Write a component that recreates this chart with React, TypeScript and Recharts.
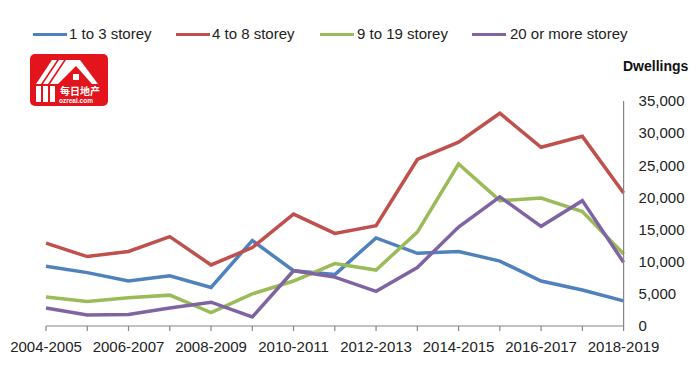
import React from 'react';
import { LineChart, Line, XAxis, YAxis } from 'recharts';

const categories = [
  '2004-2005', '2005-2006', '2006-2007', '2007-2008', '2008-2009', '2009-2010', '2010-2011', '2011-2012',
  '2012-2013', '2013-2014', '2014-2015', '2015-2016', '2016-2017', '2017-2018', '2018-2019',
];
const storey1to3 = [9300, 8300, 7000, 7800, 6000, 13300, 8600, 8000, 13700, 11300, 11600, 10100, 7000, 5600, 3900];
const storey4to8 = [12900, 10800, 11600, 13900, 9500, 12200, 17400, 14400, 15600, 25900, 28600, 33100, 27800, 29500, 20700];
const storey9to19 = [4500, 3800, 4400, 4800, 2100, 5000, 7000, 9700, 8700, 14600, 25200, 19500, 19900, 17800, 11200];
const storey20plus = [2800, 1700, 1800, 2800, 3700, 1400, 8600, 7600, 5400, 9100, 15400, 20100, 15500, 19500, 9900];
const yTicks = [0, 5000, 10000, 15000, 20000, 25000, 30000, 35000];

const seriesNames = ['1 to 3 storey', '4 to 8 storey', '9 to 19 storey', '20 or more storey'];
const colors = ['#4F81BD', '#C0504D', '#9BBB59', '#8064A2'];
const keys = ['s1', 's2', 's3', 's4'];

const data = categories.map((c, i) => ({
  cat: c,
  s1: storey1to3[i],
  s2: storey4to8[i],
  s3: storey9to19[i],
  s4: storey20plus[i],
}));

const FONT = '"Liberation Sans", Arial, sans-serif';

const XTick = (props: any) => {
  const { x, y, payload, index } = props;
  if (index % 2 !== 0) return null;
  return (
    <text x={x} y={y} dy={19} textAnchor="middle" fill="#222" fontSize={15} fontFamily={FONT}>
      {payload.value}
    </text>
  );
};

const legendPos = [
  { lx: 33, tx: 69 },
  { lx: 176, tx: 212 },
  { lx: 320, tx: 357 },
  { lx: 472, tx: 510 },
];

const Logo = () => (
  <svg width={78} height={52} style={{ position: 'absolute', left: 30, top: 54 }}>
    <rect x={0} y={0} width={78} height={52} rx={5} fill="#E3141B" />
    <polygon points="6,30 22,6 27,6 11,30" fill="#fff" />
    <polygon points="13,30 29,6 34,6 18,30" fill="#fff" />
    <polygon points="20,30 36,6 50,6 68,30 62,30 46,12 28,30" fill="#fff" />
    <rect x={6} y={32} width={5} height={16} fill="#fff" />
    <rect x={13} y={32} width={5} height={16} fill="#fff" />
    <rect x={20} y={32} width={5} height={16} fill="#fff" />
    <rect x={43} y={20} width={6} height={6} fill="#fff" />
    <text x={30} y={41} fill="#fff" fontSize={10} fontWeight="bold" fontFamily='"Noto Sans CJK SC", sans-serif'>每日地产</text>
    <text x={29} y={49} fill="#fff" fontSize={6.5} fontWeight="bold" fontFamily={FONT}>ozreal.com</text>
  </svg>
);

export default function App() {
  return (
    <div style={{ position: 'absolute', left: 0, top: 0, width: 700, height: 373, background: '#fff', fontFamily: FONT }}>
      {seriesNames.map((n, i) => (
        <React.Fragment key={n}>
          <div style={{ position: 'absolute', left: legendPos[i].lx, top: 33, width: 34, height: 3, background: colors[i] }} />
          <div style={{ position: 'absolute', left: legendPos[i].tx, top: 25, fontSize: 15, color: '#222', whiteSpace: 'nowrap', lineHeight: '18px' }}>{n}</div>
        </React.Fragment>
      ))}
      <div style={{ position: 'absolute', left: 623, top: 58, fontSize: 14, fontWeight: 'bold', color: '#111', lineHeight: '17px' }}>Dwellings</div>
      <Logo />
      <div style={{ position: 'absolute', left: 0, top: 0 }}>
        <LineChart width={700} height={373} data={data} margin={{ top: 101, right: 16.4, bottom: 17, left: 46 }}>
          <XAxis
            dataKey="cat"
            interval={0}
            tick={<XTick />}
            tickSize={5}
            axisLine={{ stroke: '#868686', strokeWidth: 1.2 }}
            tickLine={{ stroke: '#868686', strokeWidth: 1.2 }}
            height={30}
          />
          <YAxis
            orientation="right"
            domain={[0, 35000]}
            ticks={yTicks}
            width={60}
            tickLine={false}
            tickSize={6}
            tickMargin={9}
            axisLine={{ stroke: '#868686', strokeWidth: 1.2 }}
            tick={{ fill: '#222', fontSize: 15, fontFamily: FONT, textAnchor: 'start' }}
            tickFormatter={(v: number) => v.toLocaleString('en-US')}
          />
          {keys.map((k, i) => (
            <Line key={k} dataKey={k} name={seriesNames[i]} stroke={colors[i]} strokeWidth={3.5} dot={false} isAnimationActive={false} />
          ))}
        </LineChart>
      </div>
    </div>
  );
}
